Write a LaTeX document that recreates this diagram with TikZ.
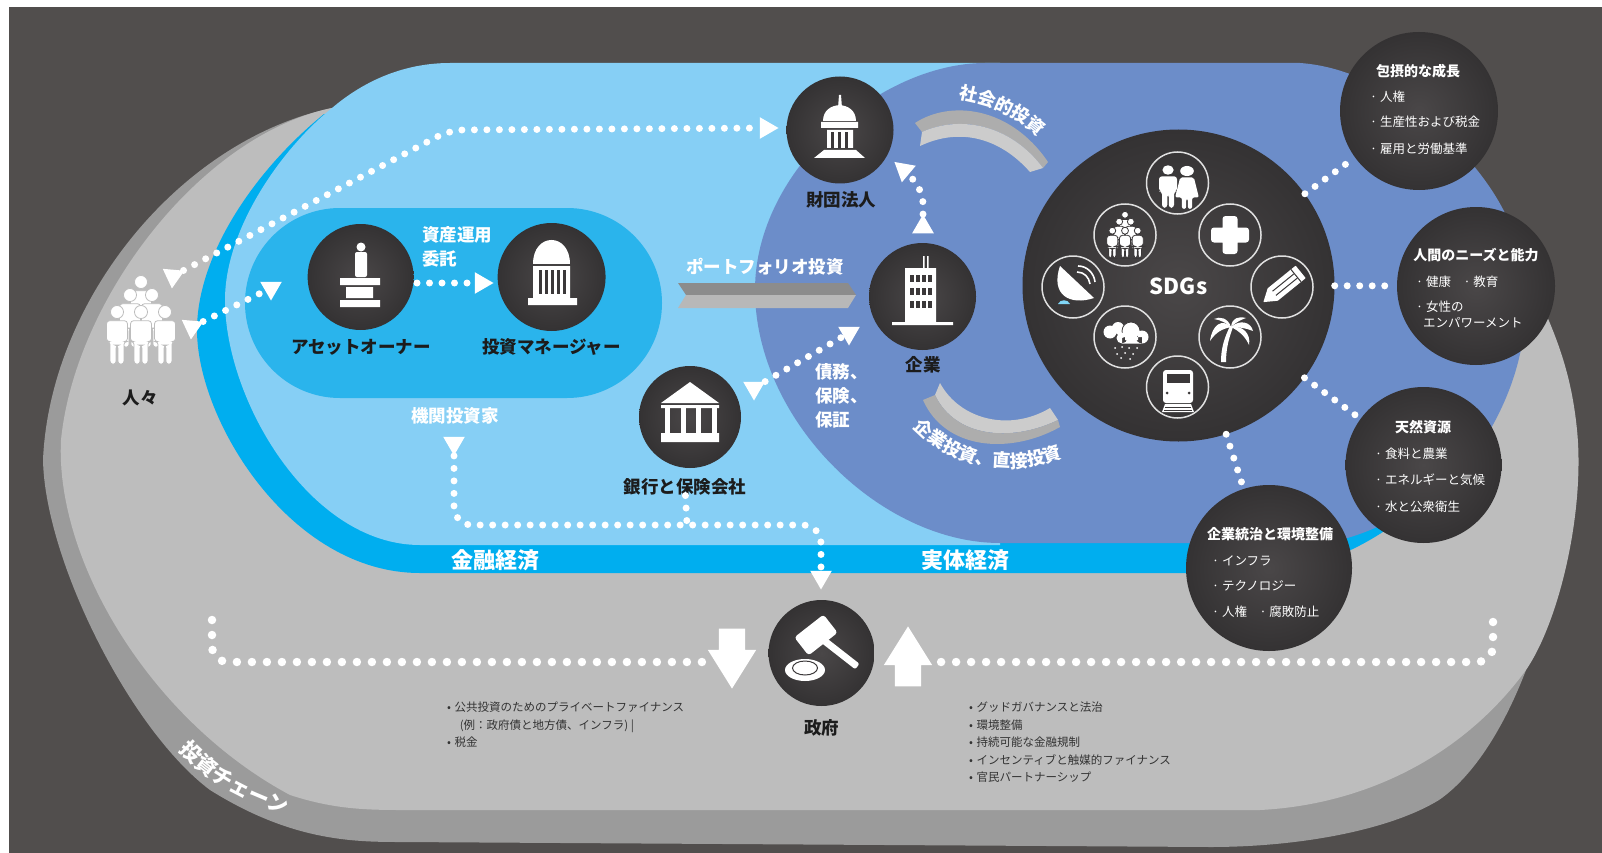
\documentclass[tikz,border=0pt]{standalone}
\usepackage{fontspec}
\setmainfont{Noto Sans CJK JP}
\usetikzlibrary{shapes.geometric, shapes.arrows, decorations.text}

\definecolor{backdrop}{HTML}{514E4D}
\definecolor{chainTop}{HTML}{BDBDBD}
\definecolor{chainSide}{HTML}{9B9B9B}
\definecolor{bandCyan}{HTML}{00AEEF}
\definecolor{skyBlue}{HTML}{86CFF5}
\definecolor{pillBlue}{HTML}{2AB4EC}
\definecolor{realBlue}{HTML}{6C8DC9}
\definecolor{ballDark}{HTML}{3B3839}
\definecolor{ballIn}{HTML}{4A4748}
\definecolor{ballOut}{HTML}{343233}
\definecolor{inkDark}{HTML}{1C1C1C}

\tikzset{
  ball/.style={circle, inner sep=0pt, inner color=ballIn, outer color=ballOut, minimum size=#1},
  ring/.style={circle, inner sep=0pt, draw=white!88!black, line width=1.5pt, minimum size=62pt},
  dots/.style={draw=white, line width=7pt, line cap=round, dash pattern=on 0pt off 12.5pt},
  bigdots/.style={draw=white, line width=8.5pt, line cap=round, dash pattern=on 0pt off 15pt},
  arrowtip/.style={regular polygon, regular polygon sides=3, fill=white, inner sep=0pt, minimum size=25pt, rotate=#1},
  bigarrow/.style={single arrow, fill=white, inner sep=0pt, minimum height=60pt, minimum width=48pt,
    single arrow head extend=11pt, single arrow tip angle=64, rotate=#1},
  actor/.style={text=inkDark, font=\bfseries\fontsize{17.5}{20}\selectfont, inner sep=0pt},
  flow/.style={text=white, font=\bfseries\fontsize{17.5}{24}\selectfont, inner sep=0pt},
  zone/.style={text=white, font=\bfseries\fontsize{22}{24}\selectfont, inner sep=0pt},
  ctitle/.style={text=white, font=\bfseries\fontsize{14}{16}\selectfont, inner sep=0pt},
  citem/.style={text=white, font=\fontsize{12.5}{16}\selectfont, anchor=west, inner sep=0pt},
  blist/.style={text=black!80, font=\fontsize{11.5}{17.5}\selectfont, align=left, anchor=north west, inner sep=0pt},
  curved/.style={decorate, decoration={text along path, text align=center, text={#1}}},
  person/.pic={
    \path[pic actions] (0,0) circle (7.5);
    \path[pic actions, rounded corners=3pt] (-12,10) -- (12,10) -- (12,34) -- (8,34) -- (8,60) -- (1,60)
      -- (1,38) -- (-1,38) -- (-1,60) -- (-8,60) -- (-8,34) -- (-12,34) -- cycle;
  },
  woman/.pic={
    \path[pic actions] (0,0) circle (8);
    \path[pic actions, rounded corners=2pt] (-8,10) -- (8,10) -- (14,42) -- (6,42) -- (6,60) -- (1,60)
      -- (1,44) -- (-1,44) -- (-1,60) -- (-6,60) -- (-6,42) -- (-14,42) -- cycle;
  },
}

\newcommand{\crowdicon}[4]{%
  \begin{scope}[shift={(#1,#2)}, scale=#3]
    \foreach \px/\py in {0/-40, -11/-27, 11/-27, -24/-10, 24/-10, 0/-10}
      \pic[transform shape, draw=#4, fill=white, line width=.8pt, scale=.87] at (\px,\py) {person};
  \end{scope}}

\begin{document}
\begin{tikzpicture}[x=1pt, y=-1pt]
  \useasboundingbox (0,0) rectangle (1602,853);
  \fill[white] (0,0) rectangle (1602,853);
  \fill[backdrop] (9,7) rectangle (1602,853);

  % investment chain
  \fill[chainSide] (332,108) .. controls (180,140) and (50,300) .. (43,460)
    .. controls (45,560) and (130,730) .. (210,790) .. controls (290,840) and (350,842) .. (400,842)
    -- (1210,847) .. controls (1300,847) and (1390,830) .. (1439,800) .. controls (1475,775) and (1505,725) .. (1526,670)
    -- (1400,300) -- cycle;
  \fill[chainTop] (332,108) .. controls (200,135) and (75,300) .. (61,440)
    .. controls (55,560) and (150,720) .. (290,795) .. controls (330,808) and (360,810) .. (400,810)
    -- (1260,810) .. controls (1360,805) and (1460,760) .. (1526,670) .. controls (1560,620) and (1585,510) .. (1577,430)
    .. controls (1572,380) and (1560,340) .. (1530,280) -- (1480,200) -- (1400,110) -- cycle;

  % economies
  \fill[bandCyan] (324,114) .. controls (255,170) and (197,255) .. (197,330)
    .. controls (197,420) and (290,573) .. (420,573) -- (1250,573)
    .. controls (1310,573) and (1360,550) .. (1400,520) -- (1400,300) -- (500,135) -- cycle;
  \fill[skyBlue] (450,63) -- (1000,63) -- (1000,545) -- (420,545)
    .. controls (310,545) and (225,400) .. (225,300) .. controls (225,230) and (280,150) .. (332,108)
    .. controls (365,80) and (405,63) .. (450,63) -- cycle;
  \fill[realBlue] (985,63) -- (1300,63) .. controls (1400,70) and (1490,170) .. (1510,225)
    .. controls (1535,290) and (1530,360) .. (1490,430) .. controls (1460,480) and (1400,525) .. (1340,540)
    -- (1290,543) -- (1000,543) .. controls (880,543) and (755,420) .. (755,290)
    .. controls (755,170) and (880,63) .. (985,63) -- cycle;
  \fill[pillBlue, rounded corners=95pt] (245,208) rectangle (662,398);

  % ribbons
  \fill[black!45] (678,283) -- (848,283) -- (856,295) -- (686,295) -- cycle;
  \fill[black!28] (686,295) -- (856,295) -- (848,308) -- (678,308) -- cycle;
  \fill[black!32] (915,123) .. controls (950,100) and (1010,106) .. (1048,162) -- (1043,168)
    .. controls (1010,124) and (960,115) .. (922,132) -- cycle;
  \fill[black!20] (922,132) .. controls (960,115) and (1010,124) .. (1043,168) -- (1030,172)
    .. controls (1000,138) and (960,127) .. (920,146) -- cycle;
  \fill[black!20] (940,383) .. controls (960,420) and (1010,432) .. (1050,408) -- (1058,420)
    .. controls (1010,443) and (955,437) .. (935,395) -- cycle;
  \fill[black!32] (935,395) .. controls (955,437) and (1010,443) .. (1058,420) -- (1060,427)
    .. controls (1010,455) and (945,450) .. (923,400) -- cycle;

  % actors
  \node[ball=106pt] (owner) at (360.6,277) {};
  \node[ball=108pt] (manager) at (551.6,277) {};
  \node[ball=107pt] (foundation) at (840,130) {};
  \node[ball=107pt] (company) at (922.5,296.5) {};
  \node[ball=102pt] (bank) at (690,417) {};
  \node[ball=106pt] (gov) at (821.5,653) {};
  \node[ball=312pt] (sdgs) at (1178.5,285.5) {};
  \node[ball=158pt] (inclusive) at (1419,111) {};
  \node[ball=158pt] (needs) at (1476,286) {};
  \node[ball=156pt] (nature) at (1423.5,465) {};
  \node[ball=166pt] (governance) at (1269,568) {};

  % labels
  \node[actor] (peopleLabel) at (140,398) {人々};
  \node[actor] (ownerLabel) at (361,347) {アセットオーナー};
  \node[actor] (managerLabel) at (551.6,347) {投資マネージャー};
  \node[actor] (foundationLabel) at (841,200) {財団法人};
  \node[actor] (companyLabel) at (923,365) {企業};
  \node[actor] (bankLabel) at (685,487) {銀行と保険会社};
  \node[actor] (govLabel) at (821.5,728) {政府};
  \node[flow, align=left, anchor=north west] (mandate) at (422,226) {資産運用\\委託};
  \node[flow] (institution) at (455,416) {機関投資家};
  \node[flow] (portfolio) at (765,267) {ポートフォリオ投資};
  \node[flow, align=left, anchor=north west] (debt) at (815,363) {債務、\\保険、\\保証};
  \node[zone] (finance) at (495,560) {金融経済};
  \node[zone] (realeco) at (965.5,560) {実体経済};
  \node[text=white, font=\bfseries\fontsize{22}{24}\selectfont, inner sep=0pt] (sdgsLabel) at (1178.5,286) {SDGs};

  \path[curved={|\bfseries\fontsize{18}{18}\selectfont\color{white}|社会的投資}]
    (944,97) .. controls (982,101) and (1022,116) .. (1049,147);
  \path[curved={|\bfseries\fontsize{18}{18}\selectfont\color{white}|企業投資、直接投資}]
    (904,416) .. controls (939,466) and (1014,484) .. (1076,451);
  \path[curved={|\bfseries\fontsize{21}{21}\selectfont\color{white}|投資チェーン}]
    (165,735) .. controls (200,780) and (245,803) .. (305,820);

  % circles with goals
  \node[ctitle] (inclusiveTitle) at (1418,71) {包摂的な成長};
  \node[citem] (incA) at (1370,97) {· 人権};
  \node[citem] (incB) at (1370,122) {· 生産性および税金};
  \node[citem] (incC) at (1370,149) {· 雇用と労働基準};
  \node[ctitle] (needsTitle) at (1476,255) {人間のニーズと能力};
  \node[citem] (needA) at (1416,282) {· 健康\hspace{1em}· 教育};
  \node[citem] (needB) at (1416,307) {· 女性の};
  \node[citem] (needC) at (1423,323) {エンパワーメント};
  \node[ctitle] (natureTitle) at (1423,427) {天然資源};
  \node[citem] (natA) at (1375,454) {· 食料と農業};
  \node[citem] (natB) at (1375,480) {· エネルギーと気候};
  \node[citem] (natC) at (1375,507) {· 水と公衆衛生};
  \node[ctitle] (govTitle) at (1270,534) {企業統治と環境整備};
  \node[citem] (govA) at (1212,561) {· インフラ};
  \node[citem] (govB) at (1212,586) {· テクノロジー};
  \node[citem] (govC) at (1212,612) {· 人権\hspace{1em}· 腐敗防止};

  % lists
  \node[blist] (leftList) at (447,702) {•\hspace{.3em}公共投資のためのプライベートファイナンス\\
    \hspace{1.1em}(例：政府債と地方債、インフラ) |\\•\hspace{.3em}税金};
  \node[blist] (rightList) at (969,702) {•\hspace{.3em}グッドガバナンスと法治\\•\hspace{.3em}環境整備\\•\hspace{.3em}持続可能な金融規制\\
    •\hspace{.3em}インセンティブと触媒的ファイナンス\\•\hspace{.3em}官民パートナーシップ};

  % connectors
  \node[arrowtip=175] (tipPeopleA) at (173,276) {};
  \node[arrowtip=-90] (tipFoundation) at (766,128) {};
  \node[arrowtip=175] (tipPeopleB) at (192,327) {};
  \node[arrowtip=180] (tipOwner) at (271,288) {};
  \node[arrowtip=-90] (tipManager) at (481,283) {};
  \node[arrowtip=180] (tipBank) at (754,388) {};
  \node[arrowtip=180] (tipCompany) at (849,333) {};
  \node[arrowtip=0] (tipUp) at (923,227) {};
  \node[arrowtip=170] (tipFound) at (904,170) {};
  \node[arrowtip=180] (tipInvestor) at (454,443) {};
  \node[arrowtip=180] (tipGov) at (821,577) {};
  \node[bigarrow=-90] (downArrow) at (732,648) {\rule{0pt}{26pt}};
  \node[bigarrow=90] (upArrow) at (908,667) {\rule{0pt}{26pt}};

  \coordinate (bendTop) at (450,130);
  \coordinate (bendUp) at (923,190);
  \coordinate (delegateStart) at (417,283);
  \coordinate (chainA) at (454,525);
  \coordinate (chainB) at (821,525);
  \coordinate (chainC) at (687,525);
  \coordinate (leftEnd) at (212,620);
  \coordinate (leftBend) at (212,662);
  \coordinate (leftStop) at (706,662);
  \coordinate (rightEnd) at (1493,622);
  \coordinate (rightBend) at (1493,662);
  \coordinate (rightStop) at (936,662);

  \draw[dots, rounded corners=14pt] (tipPeopleA) -- (bendTop) -- (tipFoundation);
  \draw[dots] (tipPeopleB) -- (tipOwner);
  \draw[dots] (delegateStart) -- (tipManager);
  \draw[dots] (tipBank) -- (tipCompany);
  \draw[dots, rounded corners=14pt] (tipUp) -- (bendUp) -- (tipFound);
  \draw[dots, rounded corners=18pt] (tipInvestor) -- (chainA) -- (chainB) -- (tipGov);
  \draw[dots] (bankLabel) -- (chainC);
  \draw[bigdots, rounded corners=16pt] (leftEnd) -- (leftBend) -- (leftStop);
  \draw[bigdots, rounded corners=16pt] (rightEnd) -- (rightBend) -- (rightStop);
  \draw[dots] (sdgs) -- (inclusive);
  \draw[dots] (sdgs) -- (needs);
  \draw[dots] (sdgs) -- (nature);
  \draw[dots] (sdgs) -- (governance);

  % people
  \crowdicon{141}{322}{1}{chainTop}
  \node[ring] (ringPair) at (1177.5,183) {};
  \node[ring] (ringCrowd) at (1125,235) {};
  \node[ring] (ringPlus) at (1230,235) {};
  \node[ring] (ringDish) at (1073,287) {};
  \node[ring] (ringPencil) at (1282,287) {};
  \node[ring] (ringCloud) at (1125,337) {};
  \node[ring] (ringPalm) at (1230,337) {};
  \node[ring] (ringTrain) at (1177.5,387) {};
  \crowdicon{1125}{236}{.53}{ballDark}
  \pic[fill=white, xscale=.75, yscale=.63] at (1168,170) {person};
  \pic[fill=white, xscale=.85, yscale=.63] at (1187,171) {woman};

  % statue
  \fill[white] (361,247) circle (4.5);
  \fill[white, rounded corners=2pt] (355,252) rectangle (367,277);
  \fill[white] (340,278) rectangle (380,285) (346,287) rectangle (373,298) (340,300) rectangle (380,307);

  % domed house
  \fill[white] (533,264) .. controls (533,232) and (570,232) .. (570,264) -- cycle;
  \fill[white] (533,266) rectangle (570,298) (528,298) rectangle (577,305);
  \foreach \cx in {539,545,551,557,563} \fill[ballDark] (\cx,270) rectangle (\cx+3,294);

  % capitol
  \fill[white] (839,95) -- (841,95) -- (842,108) -- (838,108) -- cycle;
  \fill[white] (823,121) .. controls (823,100) and (856,100) .. (856,121) -- cycle;
  \fill[white] (821,122) rectangle (858,128) (827,130) rectangle (853,148);
  \foreach \cx in {831,838,845} \fill[ballDark] (\cx,132) rectangle (\cx+3,148);
  \fill[white] (824,150) -- (856,150) -- (865,158) -- (814,158) -- cycle;

  % tower
  \fill[white] (905,268) rectangle (936,323) (892,322) rectangle (953,325);
  \fill[white] (923,256) rectangle (924.5,268) (927,256) rectangle (928.5,268);
  \foreach \wy in {275,288,301} \foreach \wx in {910,916,922,928} \fill[ballDark] (\wx,\wy) rectangle (\wx+3.5,\wy+7);

  % bank
  \fill[white] (690,382) -- (719,403) -- (661,403) -- cycle;
  \fill[white] (661,405) rectangle (719,408) (661,433) rectangle (719,442);
  \foreach \cx in {665,681,696,712} \fill[white] (\cx,408) rectangle (\cx+5,433);

  % gavel
  \begin{scope}[shift={(816,635)}, rotate=38]
    \fill[white, rounded corners=3pt] (-18.5,-11.5) rectangle (18.5,11.5);
  \end{scope}
  \begin{scope}[shift={(840,653)}, rotate=-38]
    \fill[white, rounded corners=2pt] (-22,-3.5) rectangle (22,3.5);
  \end{scope}
  \fill[white] (805,670) ellipse (20 and 11);
  \draw[ballDark, line width=1pt] (805,668) ellipse (12.5 and 7);
  \fill[white] (805,668) ellipse (11 and 6);

  % plus
  \fill[white, rounded corners=3pt] (1211,227.5) rectangle (1249,242.5) (1222.5,216) rectangle (1237.5,254);

  % pencil
  \begin{scope}[shift={(1282,287)}, rotate=39]
    \fill[white, rounded corners=.5pt] (-24,0) -- (-12,-8) -- (24,-8) -- (24,8) -- (-12,8) -- cycle;
    \draw[ballDark, line width=1pt] (-10,-2.7) -- (17,-2.7) (-10,2.7) -- (17,2.7) (18,-8) -- (18,8);
  \end{scope}

  % dish
  \fill[white] (1060,266) .. controls (1050,295) and (1070,306) .. (1094,298) -- cycle;
  \fill[bandCyan!50] (1058,304) .. controls (1060,299) and (1068,299) .. (1070,304) -- cycle;
  \draw[white, line width=1.6pt] (1077,272) .. controls (1084,272) and (1089,277) .. (1090,284);
  \draw[white, line width=1.6pt] (1078,266) .. controls (1087,266) and (1094,273) .. (1095,282);

  % cloud
  \fill[white] (1110,332) circle (6.5) (1118,328) circle (6) (1122,333) circle (5);
  \draw[fill=white, draw=ballDark, line width=.8pt] (1131,331) circle (9);
  \fill[white] (1122,338) circle (5.5) (1142,337) circle (6.5) (1122,337) rectangle (1142,343.5) (1125,330) rectangle (1138,340);
  \foreach \rx/\ry in {1115/348, 1122/347, 1129/348, 1137/348, 1117/354, 1125/353, 1133/354, 1121/358, 1130/359}
    \fill[white] (\rx,\ry) circle (1);

  % palm
  \fill[white] (1221,362) .. controls (1221,345) and (1226,335) .. (1230,326) -- (1233,327)
    .. controls (1229,338) and (1226,348) .. (1226,362) -- cycle;
  \fill[white] (1231,327) .. controls (1222,318) and (1212,325) .. (1210,341) .. controls (1216,332) and (1222,329) .. (1231,327) -- cycle;
  \fill[white] (1231,327) .. controls (1228,318) and (1220,316) .. (1214,319) .. controls (1221,320) and (1226,323) .. (1231,327) -- cycle;
  \fill[white] (1231,327) .. controls (1232,318) and (1238,316) .. (1246,318) .. controls (1240,320) and (1235,323) .. (1231,327) -- cycle;
  \fill[white] (1231,327) .. controls (1240,319) and (1251,322) .. (1253,331) .. controls (1246,328) and (1238,327) .. (1231,327) -- cycle;
  \fill[white] (1231,327) .. controls (1243,325) and (1251,334) .. (1249,345) .. controls (1245,336) and (1239,331) .. (1231,327) -- cycle;

  % train
  \fill[white, rounded corners=3pt] (1163,370) rectangle (1193,403);
  \fill[ballDark] (1167,374) rectangle (1190,383);
  \fill[ballDark] (1167,393) circle (1.5) (1189,393) circle (1.5);
  \fill[white] (1165,404) -- (1191,404) -- (1194,412) -- (1162,412) -- cycle;
  \draw[ballDark, line width=.7pt] (1165,407) -- (1191,407) (1164,410) -- (1192,410);
\end{tikzpicture}
\end{document}
